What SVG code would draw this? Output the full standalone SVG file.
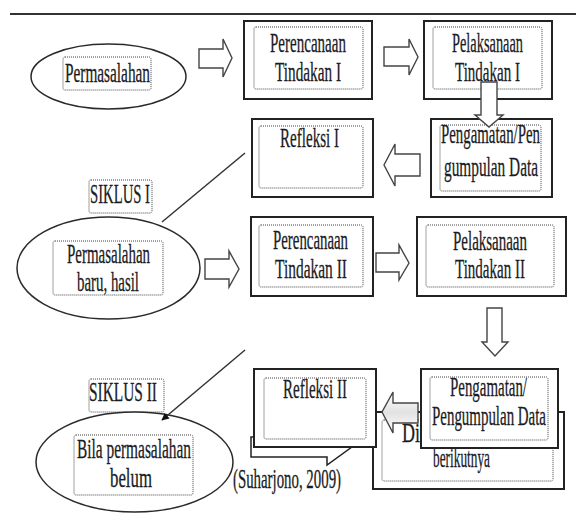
<svg xmlns="http://www.w3.org/2000/svg" width="576" height="516" viewBox="0 0 576 516">
<style>
.box{fill:#fff;stroke:#222;stroke-width:2}
.dot{fill:none;stroke:#444;stroke-width:1;stroke-dasharray:1 1}
.ell{fill:#fff;stroke:#2a2a2a;stroke-width:1.5}
.t{font-family:"Liberation Serif","Times New Roman",serif;font-size:28px;fill:#1b1b24;stroke:#1b1b24;stroke-width:0.3}
.blk{fill:#fff;stroke:#444;stroke-width:1.4;stroke-linejoin:miter}
.ln{fill:none;stroke:#333;stroke-width:1.5}
</style>
<defs>
<marker id="ah" viewBox="0 0 10 10" refX="9" refY="5" markerWidth="5" markerHeight="5" orient="auto">
<path d="M0,0 L10,5 L0,10 Z" fill="#111"/>
</marker>
<linearGradient id="gs" x1="0" y1="0" x2="0" y2="1">
<stop offset="0" stop-color="#fff"/>
<stop offset="0.5" stop-color="#e2e2e2"/>
<stop offset="1" stop-color="#fff"/>
</linearGradient>
</defs>
<rect width="576" height="516" fill="#fff"/>
<line x1="10" y1="14" x2="576" y2="14" stroke="#333" stroke-width="2"/>

<g id="n-permasalahan1">
<ellipse class="ell" cx="108.5" cy="76.5" rx="77.5" ry="32.5"/>
<rect class="dot" x="63" y="57" width="88" height="33" rx="2"/>
<text class="t" x="65" y="82" textLength="85" lengthAdjust="spacingAndGlyphs">Permasalahan</text>
</g>

<g id="n-perencanaan1">
<rect class="box" x="244" y="21" width="128" height="78"/>
<rect class="dot" x="254" y="27" width="109" height="62" rx="2"/>
<text class="t" x="270" y="52" textLength="76" lengthAdjust="spacingAndGlyphs">Perencanaan</text>
<text class="t" x="275" y="81" textLength="66" lengthAdjust="spacingAndGlyphs">Tindakan I</text>
</g>

<g id="n-pelaksanaan1">
<rect class="box" x="424" y="21" width="128" height="78"/>
<rect class="dot" x="433" y="27" width="109" height="62" rx="2"/>
<text class="t" x="452" y="52" textLength="71" lengthAdjust="spacingAndGlyphs">Pelaksanaan</text>
<text class="t" x="455" y="81" textLength="65" lengthAdjust="spacingAndGlyphs">Tindakan I</text>
</g>

<g id="n-refleksi1">
<rect class="box" x="252" y="119" width="121" height="78"/>
<rect class="dot" x="259" y="126" width="104" height="62" rx="2"/>
<text class="t" x="280" y="147" textLength="59" lengthAdjust="spacingAndGlyphs">Refleksi I</text>
</g>

<g id="n-pengamatan1">
<rect class="box" x="431" y="119" width="121" height="78"/>
<rect class="dot" x="440" y="125" width="101" height="66" rx="2"/>
<text class="t" x="441" y="143" textLength="99" lengthAdjust="spacingAndGlyphs">Pengamatan/Pen</text>
<text class="t" x="444" y="176" textLength="94" lengthAdjust="spacingAndGlyphs">gumpulan Data</text>
</g>

<g id="n-siklus1">
<rect class="dot" x="89" y="180" width="63" height="33" rx="2" fill="#fff"/>
<text class="t" x="90" y="203" textLength="60" lengthAdjust="spacingAndGlyphs">SIKLUS I</text>
</g>

<g id="n-permasalahan2">
<ellipse class="ell" cx="108.5" cy="268" rx="91.5" ry="51"/>
<rect class="dot" x="53" y="241" width="110" height="54" rx="2"/>
<text class="t" x="67" y="263" textLength="83" lengthAdjust="spacingAndGlyphs">Permasalahan</text>
<text class="t" x="77" y="291" textLength="62" lengthAdjust="spacingAndGlyphs">baru, hasil</text>
</g>

<g id="n-perencanaan2">
<rect class="box" x="251" y="217" width="122" height="79"/>
<rect class="dot" x="259" y="225" width="104" height="62" rx="2"/>
<text class="t" x="273" y="249" textLength="75" lengthAdjust="spacingAndGlyphs">Perencanaan</text>
<text class="t" x="275" y="278" textLength="72" lengthAdjust="spacingAndGlyphs">Tindakan II</text>
</g>

<g id="n-pelaksanaan2">
<rect class="box" x="417" y="217" width="149" height="79"/>
<rect class="dot" x="426" y="225" width="128" height="62" rx="2"/>
<text class="t" x="453" y="250" textLength="74" lengthAdjust="spacingAndGlyphs">Pelaksanaan</text>
<text class="t" x="455" y="278" textLength="70" lengthAdjust="spacingAndGlyphs">Tindakan II</text>
</g>

<g id="n-siklus2">
<rect class="dot" x="89" y="379" width="75" height="33" rx="2" fill="#fff"/>
<text class="t" x="89" y="401" textLength="68" lengthAdjust="spacingAndGlyphs">SIKLUS II</text>
</g>

<g id="n-bila">
<ellipse class="ell" cx="134.5" cy="462" rx="98.5" ry="50"/>
<rect class="dot" x="74" y="435" width="119" height="60" rx="2"/>
<text class="t" x="77" y="458" textLength="114" lengthAdjust="spacingAndGlyphs">Bila permasalahan</text>
<text class="t" x="110" y="487" textLength="42" lengthAdjust="spacingAndGlyphs">belum</text>
</g>

<g id="n-berikutnya">
<rect class="box" x="373" y="412" width="191" height="77"/>
<rect class="dot" x="382" y="420" width="171" height="61" rx="2"/>
<text class="t" x="402" y="442" textLength="18" lengthAdjust="spacingAndGlyphs">Di</text>
<text class="t" x="433" y="467" textLength="57" lengthAdjust="spacingAndGlyphs">berikutnya</text>
</g>

<g id="n-refleksi2">
<path d="M251,437 V457 H327 V465 L352,447 H366 V437 Z" fill="#fff" stroke="#222" stroke-width="1.5"/>
<rect class="box" x="254" y="369" width="122" height="78"/>
<rect class="dot" x="264" y="378" width="102" height="61" rx="2"/>
<text class="t" x="283" y="398" textLength="64" lengthAdjust="spacingAndGlyphs">Refleksi II</text>
</g>

<g id="connectors">
<path class="blk" d="M199,49 H223 V39 L232,58 L223,77 V68 H199 Z"/>
<path class="blk" d="M384,47 H409 V39 L418,57 L409,75 V66 H384 Z"/>
<path class="blk" d="M420,154 H395 V144 L384,165 L395,186 V176 H420 Z"/>
<path class="blk" d="M205,259 H229 V251 L239,269 L229,287 V279 H205 Z"/>
<path class="blk" d="M376,253 H399 V245 L409,263 L399,280 V272 H376 Z"/>
<path class="blk" d="M487,308 H502 V342 H508 L495,356 L482,342 H487 Z"/>
<path class="blk" style="fill:url(#gs)" d="M418,403 H393 V392 L382,412 L393,433 V423 H418 Z"/>
<path class="blk" d="M481,82 H497 V115 H503 L489,127 L475,115 H481 Z"/>
<line class="ln" x1="245" y1="153" x2="162" y2="222"/>
<line class="ln" x1="245" y1="350" x2="162" y2="420" marker-end="url(#ah)"/>
</g>

<g id="n-pengamatan2">
<rect class="box" x="421" y="369" width="137" height="79"/>
<rect class="dot" x="430" y="377" width="118" height="63" rx="2"/>
<text class="t" x="450" y="396" textLength="77" lengthAdjust="spacingAndGlyphs">Pengamatan/</text>
<text class="t" x="432" y="425" textLength="114" lengthAdjust="spacingAndGlyphs">Pengumpulan Data</text>
</g>

<text class="t" x="233" y="488" textLength="108" lengthAdjust="spacingAndGlyphs">(Suharjono, 2009)</text>
</svg>
